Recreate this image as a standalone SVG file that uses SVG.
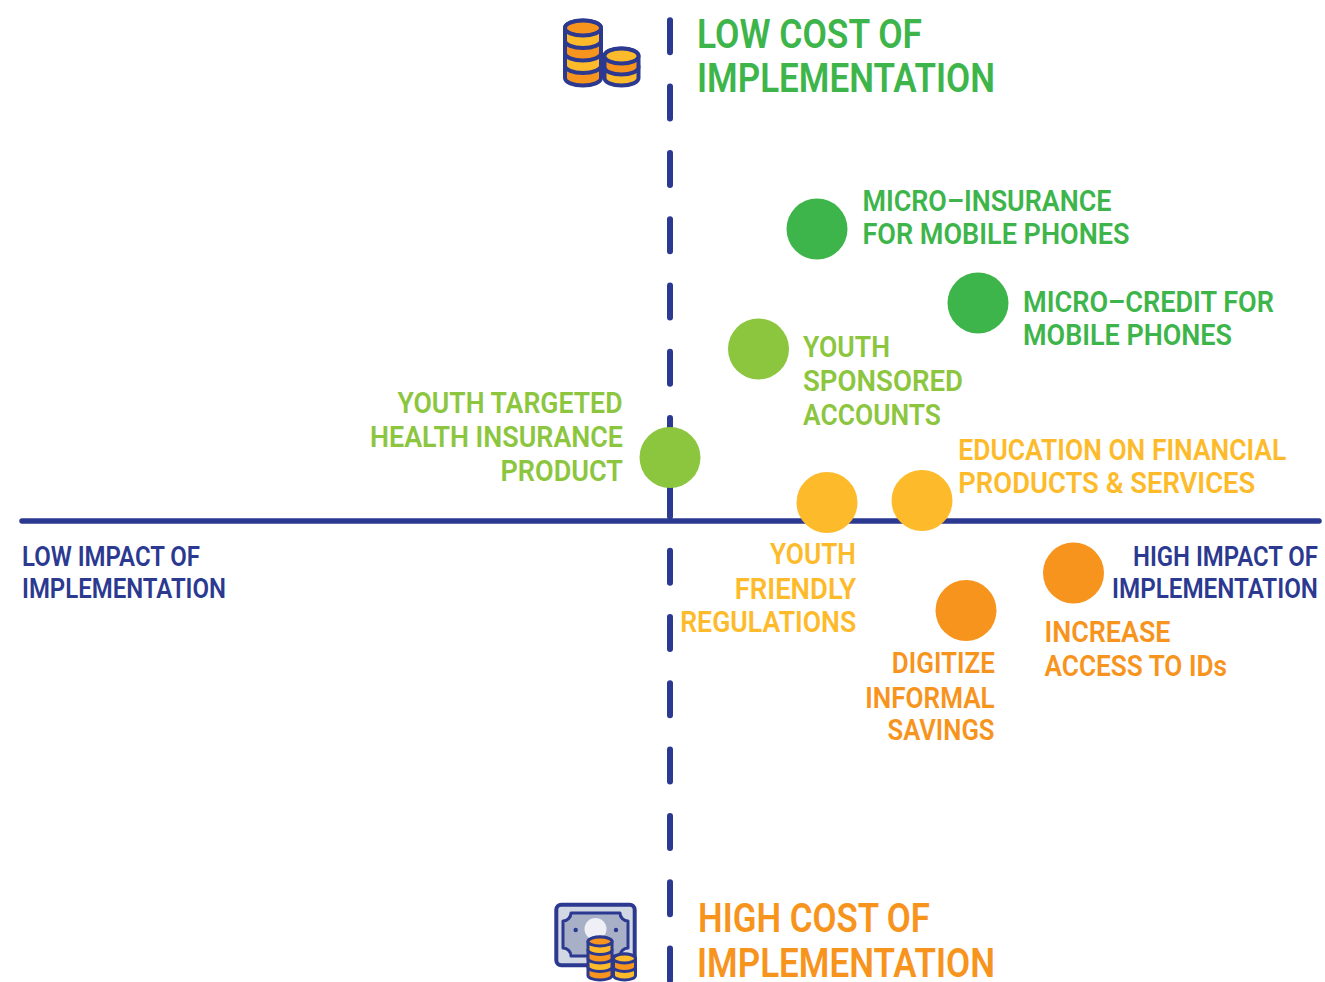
<svg xmlns="http://www.w3.org/2000/svg" width="1325" height="982" viewBox="0 0 1325 982">
<style>
text{font-family:Roboto,"Liberation Sans",sans-serif;font-weight:600}
.t{font-size:41px}
.b{font-size:27px;fill:#2b3990}
.l{font-size:29px}
.g{fill:#3db54a}.lg{fill:#8cc63f}.y{fill:#fdbb2b}.o{fill:#f7941d}
.ax{stroke:#2b3990;stroke-linecap:round;fill:none}
.cs{stroke:#2b3990;stroke-width:4;stroke-linejoin:round}
.cs2{stroke:#2b3990;stroke-width:3;stroke-linejoin:round}
.ci{fill:#fdbb2b}.co{fill:#f7941d}
</style>
<rect width="1325" height="982" fill="#ffffff"/>
<g id="axes">
<line class="ax" x1="670" y1="20.3" x2="670" y2="990" stroke-width="6" stroke-dasharray="32 34.3"/>
<line class="ax" x1="22" y1="521" x2="1319" y2="521" stroke-width="5.5"/>
</g>
<g id="low-cost">
<g id="coins-icon">
<path class="cs co" d="M565,65.5 v12.5 a18,7.5 0 0 0 36,0 v-12.5 a18,7.5 0 0 0 -36,0 z"/>
<path class="cs ci" d="M565,53 v12.5 a18,7.5 0 0 0 36,0 v-12.5 a18,7.5 0 0 0 -36,0 z"/>
<path class="cs co" d="M565,40.5 v12.5 a18,7.5 0 0 0 36,0 v-12.5 a18,7.5 0 0 0 -36,0 z"/>
<path class="cs ci" d="M565,28 v12.5 a18,7.5 0 0 0 36,0 v-12.5 a18,7.5 0 0 0 -36,0 z"/>
<ellipse class="cs co" cx="583" cy="28" rx="18" ry="7.5"/>
<path class="cs ci" d="M604.5,67 v11 a17,7.5 0 0 0 34,0 v-11 a17,7.5 0 0 0 -34,0 z"/>
<path class="cs co" d="M604.5,56 v11 a17,7.5 0 0 0 34,0 v-11 a17,7.5 0 0 0 -34,0 z"/>
<ellipse class="cs ci" cx="621.5" cy="56" rx="17" ry="7.5"/>
</g>
<text class="t g" x="697" y="48" textLength="225" lengthAdjust="spacingAndGlyphs">LOW COST OF</text>
<text class="t g" x="697" y="92" textLength="298" lengthAdjust="spacingAndGlyphs">IMPLEMENTATION</text>
</g>
<g id="high-cost">
<g id="money-icon">
<rect x="556.3" y="904.7" width="78.4" height="60.6" rx="5" fill="#d2d7e4" class="cs"/>
<path d="M571,913 H620 A8,8 0 0 0 628,921 V948 A8,8 0 0 0 620,956 H571 A8,8 0 0 0 563,948 V921 A8,8 0 0 0 571,913 Z" fill="#a7b0c6" stroke="#2b3990" stroke-width="3" stroke-linejoin="round"/>
<circle cx="595.5" cy="929" r="11" fill="#eef0f6"/>
<circle cx="575.7" cy="930" r="2.2" fill="#2b3990"/>
<circle cx="616" cy="930" r="2.2" fill="#2b3990"/>
<path class="cs2 co" d="M588,967 v8.5 a12,4.5 0 0 0 24,0 v-8.5 a12,4.5 0 0 0 -24,0 z"/>
<path class="cs2 ci" d="M588,958.5 v8.5 a12,4.5 0 0 0 24,0 v-8.5 a12,4.5 0 0 0 -24,0 z"/>
<path class="cs2 co" d="M588,950 v8.5 a12,4.5 0 0 0 24,0 v-8.5 a12,4.5 0 0 0 -24,0 z"/>
<path class="cs2 ci" d="M588,941.5 v8.5 a12,4.5 0 0 0 24,0 v-8.5 a12,4.5 0 0 0 -24,0 z"/>
<ellipse class="cs2 co" cx="600" cy="941.5" rx="12" ry="4.5"/>
<path class="cs2 ci" d="M613.5,967 v8.5 a11,4.5 0 0 0 22,0 v-8.5 a11,4.5 0 0 0 -22,0 z"/>
<path class="cs2 co" d="M613.5,958.5 v8.5 a11,4.5 0 0 0 22,0 v-8.5 a11,4.5 0 0 0 -22,0 z"/>
<ellipse class="cs2 ci" cx="624.5" cy="958.5" rx="11" ry="4.5"/>
</g>
<text class="t o" x="698" y="932" textLength="232" lengthAdjust="spacingAndGlyphs">HIGH COST OF</text>
<text class="t o" x="697" y="977" textLength="298" lengthAdjust="spacingAndGlyphs">IMPLEMENTATION</text>
</g>
<g id="low-impact">
<text class="b" x="22" y="566" textLength="178" lengthAdjust="spacingAndGlyphs">LOW IMPACT OF</text>
<text class="b" x="22" y="598" textLength="204" lengthAdjust="spacingAndGlyphs">IMPLEMENTATION</text>
</g>
<g id="high-impact">
<text class="b" x="1133" y="566" textLength="185" lengthAdjust="spacingAndGlyphs">HIGH IMPACT OF</text>
<text class="b" x="1112" y="598" textLength="206" lengthAdjust="spacingAndGlyphs">IMPLEMENTATION</text>
</g>
<g id="micro-insurance">
<circle class="g" cx="817" cy="229" r="30.5"/>
<text class="l g" x="862.5" y="211" textLength="249" lengthAdjust="spacingAndGlyphs">MICRO–INSURANCE</text>
<text class="l g" x="862.5" y="244" textLength="267" lengthAdjust="spacingAndGlyphs">FOR MOBILE PHONES</text>
</g>
<g id="micro-credit">
<circle class="g" cx="978" cy="303" r="30.5"/>
<text class="l g" x="1023" y="312" textLength="251" lengthAdjust="spacingAndGlyphs">MICRO–CREDIT FOR</text>
<text class="l g" x="1023" y="345" textLength="209" lengthAdjust="spacingAndGlyphs">MOBILE PHONES</text>
</g>
<g id="youth-sponsored">
<circle class="lg" cx="758.5" cy="349" r="30.5"/>
<text class="l lg" x="803" y="357" textLength="87" lengthAdjust="spacingAndGlyphs">YOUTH</text>
<text class="l lg" x="803" y="391" textLength="160" lengthAdjust="spacingAndGlyphs">SPONSORED</text>
<text class="l lg" x="803" y="425" textLength="138" lengthAdjust="spacingAndGlyphs">ACCOUNTS</text>
</g>
<g id="youth-health">
<circle class="lg" cx="670" cy="457.5" r="30.5"/>
<text class="l lg" x="397.5" y="413" textLength="225" lengthAdjust="spacingAndGlyphs">YOUTH TARGETED</text>
<text class="l lg" x="370" y="447" textLength="253" lengthAdjust="spacingAndGlyphs">HEALTH INSURANCE</text>
<text class="l lg" x="500.5" y="481" textLength="122.5" lengthAdjust="spacingAndGlyphs">PRODUCT</text>
</g>
<g id="education">
<circle class="y" cx="922" cy="500.5" r="30.5"/>
<text class="l y" x="958.3" y="460" textLength="328" lengthAdjust="spacingAndGlyphs">EDUCATION ON FINANCIAL</text>
<text class="l y" x="958.3" y="493" textLength="297" lengthAdjust="spacingAndGlyphs">PRODUCTS &amp; SERVICES</text>
</g>
<g id="youth-regulations">
<circle class="y" cx="827" cy="502.5" r="30.5"/>
<text class="l y" x="770" y="564" textLength="86" lengthAdjust="spacingAndGlyphs">YOUTH</text>
<text class="l y" x="734.7" y="599" textLength="121.5" lengthAdjust="spacingAndGlyphs">FRIENDLY</text>
<text class="l y" x="680.2" y="632" textLength="176" lengthAdjust="spacingAndGlyphs">REGULATIONS</text>
</g>
<g id="digitize">
<circle class="o" cx="966" cy="610.5" r="30.5"/>
<text class="l o" x="891.8" y="673" textLength="103" lengthAdjust="spacingAndGlyphs">DIGITIZE</text>
<text class="l o" x="865.3" y="708" textLength="129.4" lengthAdjust="spacingAndGlyphs">INFORMAL</text>
<text class="l o" x="887.5" y="740" textLength="107" lengthAdjust="spacingAndGlyphs">SAVINGS</text>
</g>
<g id="increase-ids">
<circle class="o" cx="1073.5" cy="573" r="30.5"/>
<text class="l o" x="1044.5" y="642" textLength="126" lengthAdjust="spacingAndGlyphs">INCREASE</text>
<text class="l o" x="1044.5" y="676" textLength="182.5" lengthAdjust="spacingAndGlyphs">ACCESS TO IDs</text>
</g>
</svg>
